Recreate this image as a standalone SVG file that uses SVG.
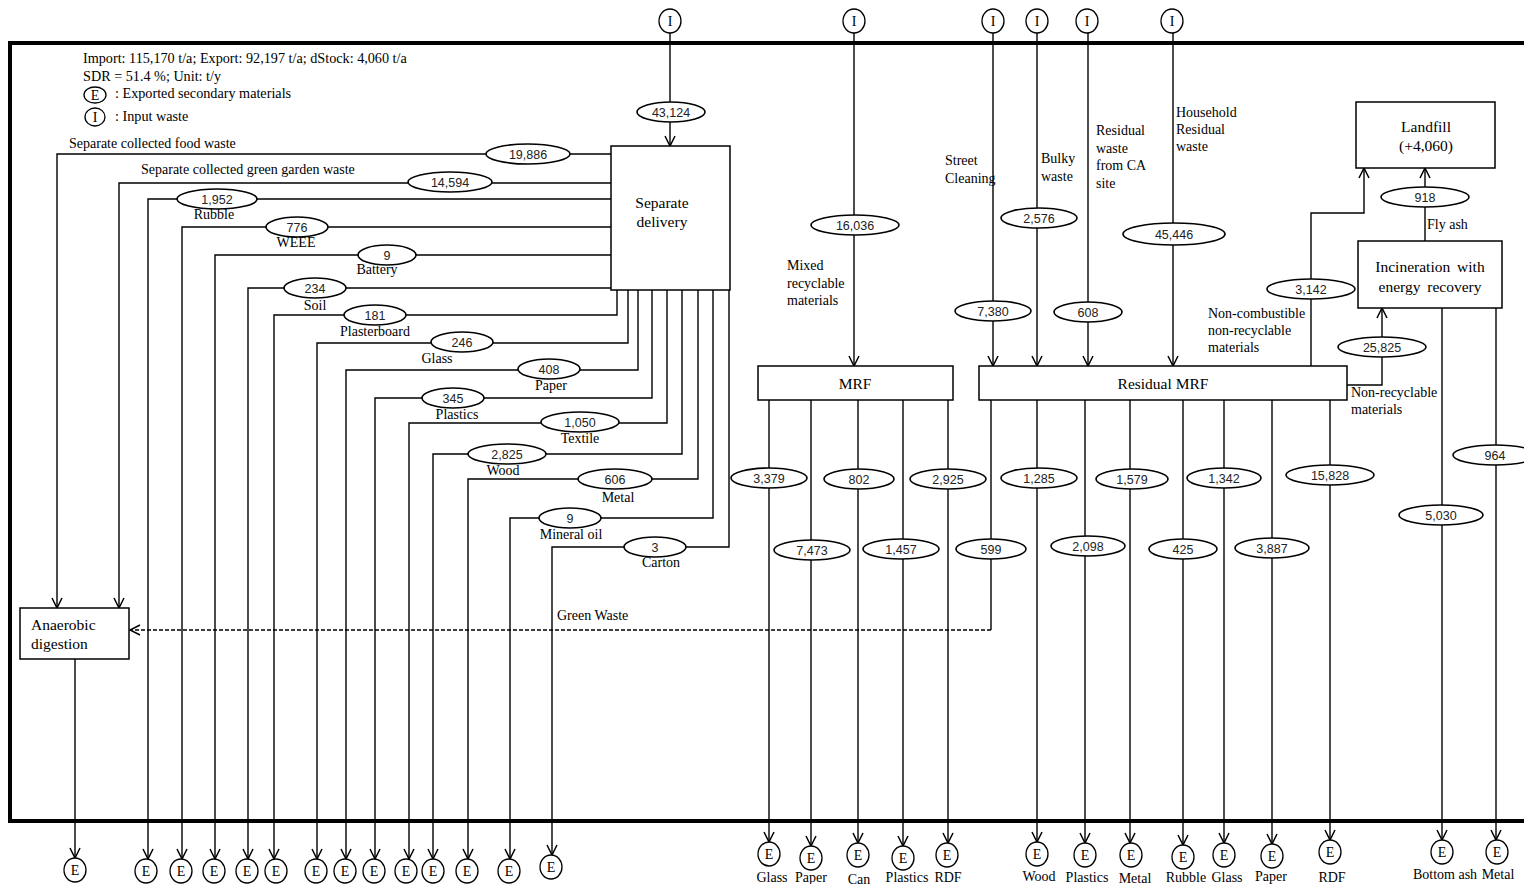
<svg xmlns="http://www.w3.org/2000/svg" width="1524" height="884" viewBox="0 0 1524 884">
<style>
.ln{stroke:#000;stroke-width:1.4;fill:none}
.ar{marker-end:url(#arr)}
.ds{stroke-dasharray:4 2}
.el{fill:#fff;stroke:#000;stroke-width:1.6}
.num{font-family:"Liberation Sans",Arial,sans-serif;font-size:12.5px;text-anchor:middle;fill:#222}
.lbl{font-family:"Liberation Serif","Times New Roman",serif;font-size:14px;fill:#000}
.c{text-anchor:middle}
.box{fill:#fff;stroke:#000;stroke-width:1.5}
.bt{font-family:"Liberation Serif","Times New Roman",serif;font-size:15.5px;text-anchor:middle}
.bts{font-family:"Liberation Serif","Times New Roman",serif;font-size:15.5px;text-anchor:start}
.cir{fill:#fff;stroke:#000;stroke-width:1.3}
.ct{font-family:"Liberation Serif","Times New Roman",serif;font-size:14px;text-anchor:middle}
.hd{font-family:"Liberation Serif","Times New Roman",serif;font-size:14.2px}
</style>
<defs>
<marker id="arr" viewBox="0 0 12 12" refX="11" refY="6" markerWidth="12" markerHeight="12" orient="auto" markerUnits="userSpaceOnUse">
<path d="M1,1 L11,6 L1,11" fill="none" stroke="#000" stroke-width="1.5"/>
</marker>
</defs>
<rect x="10" y="43" width="1540" height="778" fill="none" stroke="#000" stroke-width="4"/>
<g id="legend">
<text class="hd" x="83" y="63">Import: 115,170  t/a; Export: 92,197 t/a;  dStock: 4,060 t/a</text>
<text class="hd" x="83" y="81">SDR = 51.4 %; Unit:  t/y</text>
<ellipse class="cir" cx="95" cy="95" rx="11" ry="8"/><text class="ct" x="95" y="100">E</text>
<text class="hd" x="115" y="98">: Exported secondary materials</text>
<ellipse class="cir" cx="95" cy="117" rx="10" ry="9"/><text class="ct" x="95" y="122">I</text>
<text class="hd" x="115" y="121">: Input waste</text>
</g>
<g id="connectors">
<path class="ln ar" d="M670,33 V146"/>
<path class="ln ar" d="M854,33 V366"/>
<path class="ln ar" d="M993,33 V366"/>
<path class="ln ar" d="M1037,33 V366"/>
<path class="ln ar" d="M1088,33 V366"/>
<path class="ln ar" d="M1173,33 V366"/>
<path class="ln ar" d="M611,154 H57 V608"/>
<path class="ln ar" d="M611,183 H119 V608"/>
<path class="ln ar" d="M611,199 H148 V859"/>
<path class="ln ar" d="M611,227 H182 V859"/>
<path class="ln ar" d="M611,255 H215 V859"/>
<path class="ln ar" d="M611,288 H248 V859"/>
<path class="ln ar" d="M617,290 V315 H274 V859"/>
<path class="ln ar" d="M628,290 V343 H317 V859"/>
<path class="ln ar" d="M638,290 V370 H346 V859"/>
<path class="ln ar" d="M652,290 V398 H375 V859"/>
<path class="ln ar" d="M667,290 V423 H409 V859"/>
<path class="ln ar" d="M682,290 V454 H433 V859"/>
<path class="ln ar" d="M698,290 V479 H468 V859"/>
<path class="ln ar" d="M713,290 V518 H510 V859"/>
<path class="ln ar" d="M729,290 V547 H552 V855"/>
<path class="ln ar" d="M75,659 V858"/>
<path class="ln ar" d="M769,400 V842"/>
<path class="ln ar" d="M811,400 V846"/>
<path class="ln ar" d="M858,400 V843"/>
<path class="ln ar" d="M903,400 V846"/>
<path class="ln ar" d="M948,400 V843"/>
<path class="ln" d="M991,400 V630"/>
<path class="ln ar ds" d="M991,630 H130"/>
<path class="ln ar" d="M1037,400 V842"/>
<path class="ln ar" d="M1085,400 V843"/>
<path class="ln ar" d="M1130,400 V843"/>
<path class="ln ar" d="M1183,400 V845"/>
<path class="ln ar" d="M1224,400 V843"/>
<path class="ln ar" d="M1272,400 V844"/>
<path class="ln ar" d="M1330,400 V840"/>
<path class="ln ar" d="M1311,366 V213 H1364 V168"/>
<path class="ln ar" d="M1347,385 H1382 V308"/>
<path class="ln ar" d="M1425,241 V168"/>
<path class="ln ar" d="M1442,308 V840"/>
<path class="ln ar" d="M1496,308 V840"/>
<ellipse class="el" cx="671" cy="112" rx="34" ry="10"/><text class="num" x="671" y="116.5">43,124</text>
<ellipse class="el" cx="855" cy="225" rx="44" ry="10"/><text class="num" x="855" y="229.5">16,036</text>
<ellipse class="el" cx="993" cy="311" rx="38" ry="10"/><text class="num" x="993" y="315.5">7,380</text>
<ellipse class="el" cx="1039" cy="218" rx="38" ry="10"/><text class="num" x="1039" y="222.5">2,576</text>
<ellipse class="el" cx="1088" cy="312" rx="34" ry="10"/><text class="num" x="1088" y="316.5">608</text>
<ellipse class="el" cx="1174" cy="234" rx="51" ry="11"/><text class="num" x="1174" y="238.5">45,446</text>
<ellipse class="el" cx="528" cy="154" rx="42" ry="10"/><text class="num" x="528" y="158.5">19,886</text>
<ellipse class="el" cx="450" cy="182" rx="42" ry="10"/><text class="num" x="450" y="186.5">14,594</text>
<ellipse class="el" cx="217" cy="199" rx="40" ry="10"/><text class="num" x="217" y="203.5">1,952</text>
<ellipse class="el" cx="297" cy="227" rx="31" ry="10"/><text class="num" x="297" y="231.5">776</text>
<ellipse class="el" cx="387" cy="255" rx="29" ry="10"/><text class="num" x="387" y="259.5">9</text>
<ellipse class="el" cx="315" cy="288" rx="31" ry="10"/><text class="num" x="315" y="292.5">234</text>
<ellipse class="el" cx="375" cy="315" rx="31" ry="10"/><text class="num" x="375" y="319.5">181</text>
<ellipse class="el" cx="462" cy="342" rx="31" ry="10"/><text class="num" x="462" y="346.5">246</text>
<ellipse class="el" cx="549" cy="369" rx="31" ry="10"/><text class="num" x="549" y="373.5">408</text>
<ellipse class="el" cx="453" cy="398" rx="31" ry="10"/><text class="num" x="453" y="402.5">345</text>
<ellipse class="el" cx="580" cy="422" rx="39" ry="10"/><text class="num" x="580" y="426.5">1,050</text>
<ellipse class="el" cx="507" cy="454" rx="39" ry="10"/><text class="num" x="507" y="458.5">2,825</text>
<ellipse class="el" cx="615" cy="479" rx="37" ry="10"/><text class="num" x="615" y="483.5">606</text>
<ellipse class="el" cx="570" cy="518" rx="31" ry="10"/><text class="num" x="570" y="522.5">9</text>
<ellipse class="el" cx="655" cy="547" rx="31" ry="10"/><text class="num" x="655" y="551.5">3</text>
<ellipse class="el" cx="769" cy="478" rx="38" ry="10"/><text class="num" x="769" y="482.5">3,379</text>
<ellipse class="el" cx="812" cy="550" rx="38" ry="10"/><text class="num" x="812" y="554.5">7,473</text>
<ellipse class="el" cx="859" cy="479" rx="35" ry="10"/><text class="num" x="859" y="483.5">802</text>
<ellipse class="el" cx="901" cy="549" rx="38" ry="10"/><text class="num" x="901" y="553.5">1,457</text>
<ellipse class="el" cx="948" cy="479" rx="38" ry="10"/><text class="num" x="948" y="483.5">2,925</text>
<ellipse class="el" cx="991" cy="549" rx="35" ry="10"/><text class="num" x="991" y="553.5">599</text>
<ellipse class="el" cx="1039" cy="478" rx="38" ry="10"/><text class="num" x="1039" y="482.5">1,285</text>
<ellipse class="el" cx="1088" cy="546" rx="37" ry="10"/><text class="num" x="1088" y="550.5">2,098</text>
<ellipse class="el" cx="1132" cy="479" rx="36" ry="10"/><text class="num" x="1132" y="483.5">1,579</text>
<ellipse class="el" cx="1183" cy="549" rx="34" ry="10"/><text class="num" x="1183" y="553.5">425</text>
<ellipse class="el" cx="1224" cy="478" rx="37" ry="10"/><text class="num" x="1224" y="482.5">1,342</text>
<ellipse class="el" cx="1272" cy="548" rx="37" ry="10"/><text class="num" x="1272" y="552.5">3,887</text>
<ellipse class="el" cx="1330" cy="475" rx="44" ry="10"/><text class="num" x="1330" y="479.5">15,828</text>
<ellipse class="el" cx="1311" cy="289" rx="44" ry="10"/><text class="num" x="1311" y="293.5">3,142</text>
<ellipse class="el" cx="1425" cy="197" rx="44" ry="10"/><text class="num" x="1425" y="201.5">918</text>
<ellipse class="el" cx="1382" cy="347" rx="44" ry="10"/><text class="num" x="1382" y="351.5">25,825</text>
<ellipse class="el" cx="1441" cy="515" rx="42" ry="10"/><text class="num" x="1441" y="519.5">5,030</text>
<ellipse class="el" cx="1495" cy="455" rx="42" ry="10"/><text class="num" x="1495" y="459.5">964</text>
<text class="lbl" x="69" y="148">Separate collected food waste</text>
<text class="lbl" x="141" y="174">Separate collected green garden waste</text>
<text class="lbl c" x="214" y="219">Rubble</text>
<text class="lbl c" x="296" y="247">WEEE</text>
<text class="lbl c" x="377" y="274">Battery</text>
<text class="lbl c" x="315" y="310">Soil</text>
<text class="lbl c" x="375" y="336">Plasterboard</text>
<text class="lbl c" x="437" y="363">Glass</text>
<text class="lbl c" x="551" y="390">Paper</text>
<text class="lbl c" x="457" y="419">Plastics</text>
<text class="lbl c" x="580" y="443">Textile</text>
<text class="lbl c" x="503" y="475">Wood</text>
<text class="lbl c" x="618" y="502">Metal</text>
<text class="lbl c" x="571" y="539">Mineral  oil</text>
<text class="lbl c" x="661" y="567">Carton</text>
<text class="lbl" x="557" y="620">Green Waste</text>
<text class="lbl" x="787" y="270">Mixed</text>
<text class="lbl" x="787" y="288">recyclable</text>
<text class="lbl" x="787" y="305">materials</text>
<text class="lbl" x="945" y="165">Street</text>
<text class="lbl" x="945" y="183">Cleaning</text>
<text class="lbl" x="1041" y="163">Bulky</text>
<text class="lbl" x="1041" y="181">waste</text>
<text class="lbl" x="1096" y="135">Residual</text>
<text class="lbl" x="1096" y="153">waste</text>
<text class="lbl" x="1096" y="170">from CA</text>
<text class="lbl" x="1096" y="188">site</text>
<text class="lbl" x="1176" y="117">Household</text>
<text class="lbl" x="1176" y="134">Residual</text>
<text class="lbl" x="1176" y="151">waste</text>
<text class="lbl" x="1208" y="318">Non-combustible</text>
<text class="lbl" x="1208" y="335">non-recyclable</text>
<text class="lbl" x="1208" y="352">materials</text>
<text class="lbl" x="1351" y="397">Non-recyclable</text>
<text class="lbl" x="1351" y="414">materials</text>
<text class="lbl" x="1427" y="229">Fly ash</text>
</g>
<g id="node-separate-delivery"><rect class="box" x="611" y="146" width="119" height="144"/><text class="bt" x="662" y="208">Separate</text><text class="bt" x="662" y="227">delivery</text></g>
<g id="node-anaerobic-digestion"><rect class="box" x="20" y="608" width="109" height="51"/><text class="bts" x="31" y="630">Anaerobic</text><text class="bts" x="31" y="649">digestion</text></g>
<g id="node-mrf"><rect class="box" x="758" y="366" width="195" height="34"/><text class="bt" x="855" y="389">MRF</text></g>
<g id="node-residual-mrf"><rect class="box" x="979" y="366" width="368" height="34"/><text class="bt" x="1163" y="389">Residual MRF</text></g>
<g id="node-landfill"><rect class="box" x="1356" y="102" width="139" height="66"/><text class="bt" x="1426" y="132">Landfill</text><text class="bt" x="1426" y="151">(+4,060)</text></g>
<g id="node-incineration"><rect class="box" x="1358" y="241" width="144" height="67"/><text class="bt" x="1430" y="272" word-spacing="3">Incineration with</text><text class="bt" x="1430" y="292" word-spacing="3">energy recovery</text></g>
<g id="inputs">
<g id="in-1"><ellipse class="cir" cx="670" cy="21" rx="11" ry="12"/><text class="ct" x="670" y="26">I</text></g>
<g id="in-2"><ellipse class="cir" cx="854" cy="21" rx="11" ry="12"/><text class="ct" x="854" y="26">I</text></g>
<g id="in-3"><ellipse class="cir" cx="993" cy="21" rx="11" ry="12"/><text class="ct" x="993" y="26">I</text></g>
<g id="in-4"><ellipse class="cir" cx="1037" cy="21" rx="11" ry="12"/><text class="ct" x="1037" y="26">I</text></g>
<g id="in-5"><ellipse class="cir" cx="1087" cy="21" rx="11" ry="12"/><text class="ct" x="1087" y="26">I</text></g>
<g id="in-6"><ellipse class="cir" cx="1172" cy="21" rx="11" ry="12"/><text class="ct" x="1172" y="26">I</text></g>
</g>
<g id="exports">
<g id="ex-ad"><ellipse class="cir" cx="75" cy="870" rx="11" ry="12"/><text class="ct" x="75" y="875">E</text></g>
<g id="ex-rubble"><ellipse class="cir" cx="146" cy="871" rx="11" ry="12"/><text class="ct" x="146" y="876">E</text></g>
<g id="ex-weee"><ellipse class="cir" cx="181" cy="871" rx="11" ry="12"/><text class="ct" x="181" y="876">E</text></g>
<g id="ex-battery"><ellipse class="cir" cx="214" cy="871" rx="11" ry="12"/><text class="ct" x="214" y="876">E</text></g>
<g id="ex-soil"><ellipse class="cir" cx="247" cy="871" rx="11" ry="12"/><text class="ct" x="247" y="876">E</text></g>
<g id="ex-plasterboard"><ellipse class="cir" cx="276" cy="871" rx="11" ry="12"/><text class="ct" x="276" y="876">E</text></g>
<g id="ex-glass"><ellipse class="cir" cx="316" cy="871" rx="11" ry="12"/><text class="ct" x="316" y="876">E</text></g>
<g id="ex-paper"><ellipse class="cir" cx="345" cy="871" rx="11" ry="12"/><text class="ct" x="345" y="876">E</text></g>
<g id="ex-plastics"><ellipse class="cir" cx="374" cy="871" rx="11" ry="12"/><text class="ct" x="374" y="876">E</text></g>
<g id="ex-textile"><ellipse class="cir" cx="406" cy="871" rx="11" ry="12"/><text class="ct" x="406" y="876">E</text></g>
<g id="ex-wood"><ellipse class="cir" cx="433" cy="871" rx="11" ry="12"/><text class="ct" x="433" y="876">E</text></g>
<g id="ex-metal"><ellipse class="cir" cx="467" cy="871" rx="11" ry="12"/><text class="ct" x="467" y="876">E</text></g>
<g id="ex-mineral-oil"><ellipse class="cir" cx="509" cy="871" rx="11" ry="12"/><text class="ct" x="509" y="876">E</text></g>
<g id="ex-carton"><ellipse class="cir" cx="551" cy="867" rx="11" ry="12"/><text class="ct" x="551" y="872">E</text></g>
<g id="ex-mrf-glass"><ellipse class="cir" cx="769" cy="854" rx="11" ry="12"/><text class="ct" x="769" y="859">E</text><text class="lbl c" x="772" y="882">Glass</text></g>
<g id="ex-mrf-paper"><ellipse class="cir" cx="811" cy="858" rx="11" ry="12"/><text class="ct" x="811" y="863">E</text><text class="lbl c" x="811" y="882">Paper</text></g>
<g id="ex-mrf-can"><ellipse class="cir" cx="858" cy="855" rx="11" ry="12"/><text class="ct" x="858" y="860">E</text><text class="lbl c" x="859" y="884">Can</text></g>
<g id="ex-mrf-plastics"><ellipse class="cir" cx="903" cy="858" rx="11" ry="12"/><text class="ct" x="903" y="863">E</text><text class="lbl c" x="907" y="882">Plastics</text></g>
<g id="ex-mrf-rdf"><ellipse class="cir" cx="947" cy="855" rx="11" ry="12"/><text class="ct" x="947" y="860">E</text><text class="lbl c" x="948" y="882">RDF</text></g>
<g id="ex-r-wood"><ellipse class="cir" cx="1037" cy="854" rx="11" ry="12"/><text class="ct" x="1037" y="859">E</text><text class="lbl c" x="1039" y="881">Wood</text></g>
<g id="ex-r-plastics"><ellipse class="cir" cx="1085" cy="855" rx="11" ry="12"/><text class="ct" x="1085" y="860">E</text><text class="lbl c" x="1087" y="882">Plastics</text></g>
<g id="ex-r-metal"><ellipse class="cir" cx="1131" cy="855" rx="11" ry="12"/><text class="ct" x="1131" y="860">E</text><text class="lbl c" x="1135" y="883">Metal</text></g>
<g id="ex-r-rubble"><ellipse class="cir" cx="1183" cy="857" rx="11" ry="12"/><text class="ct" x="1183" y="862">E</text><text class="lbl c" x="1186" y="882">Rubble</text></g>
<g id="ex-r-glass"><ellipse class="cir" cx="1224" cy="855" rx="11" ry="12"/><text class="ct" x="1224" y="860">E</text><text class="lbl c" x="1227" y="882">Glass</text></g>
<g id="ex-r-paper"><ellipse class="cir" cx="1272" cy="856" rx="11" ry="12"/><text class="ct" x="1272" y="861">E</text><text class="lbl c" x="1271" y="881">Paper</text></g>
<g id="ex-r-rdf"><ellipse class="cir" cx="1330" cy="852" rx="11" ry="12"/><text class="ct" x="1330" y="857">E</text><text class="lbl c" x="1332" y="882">RDF</text></g>
<g id="ex-bottom-ash"><ellipse class="cir" cx="1442" cy="852" rx="11" ry="12"/><text class="ct" x="1442" y="857">E</text><text class="lbl c" x="1445" y="879">Bottom ash</text></g>
<g id="ex-inc-metal"><ellipse class="cir" cx="1497" cy="852" rx="11" ry="12"/><text class="ct" x="1497" y="857">E</text><text class="lbl c" x="1498" y="879">Metal</text></g>
</g>
</svg>
